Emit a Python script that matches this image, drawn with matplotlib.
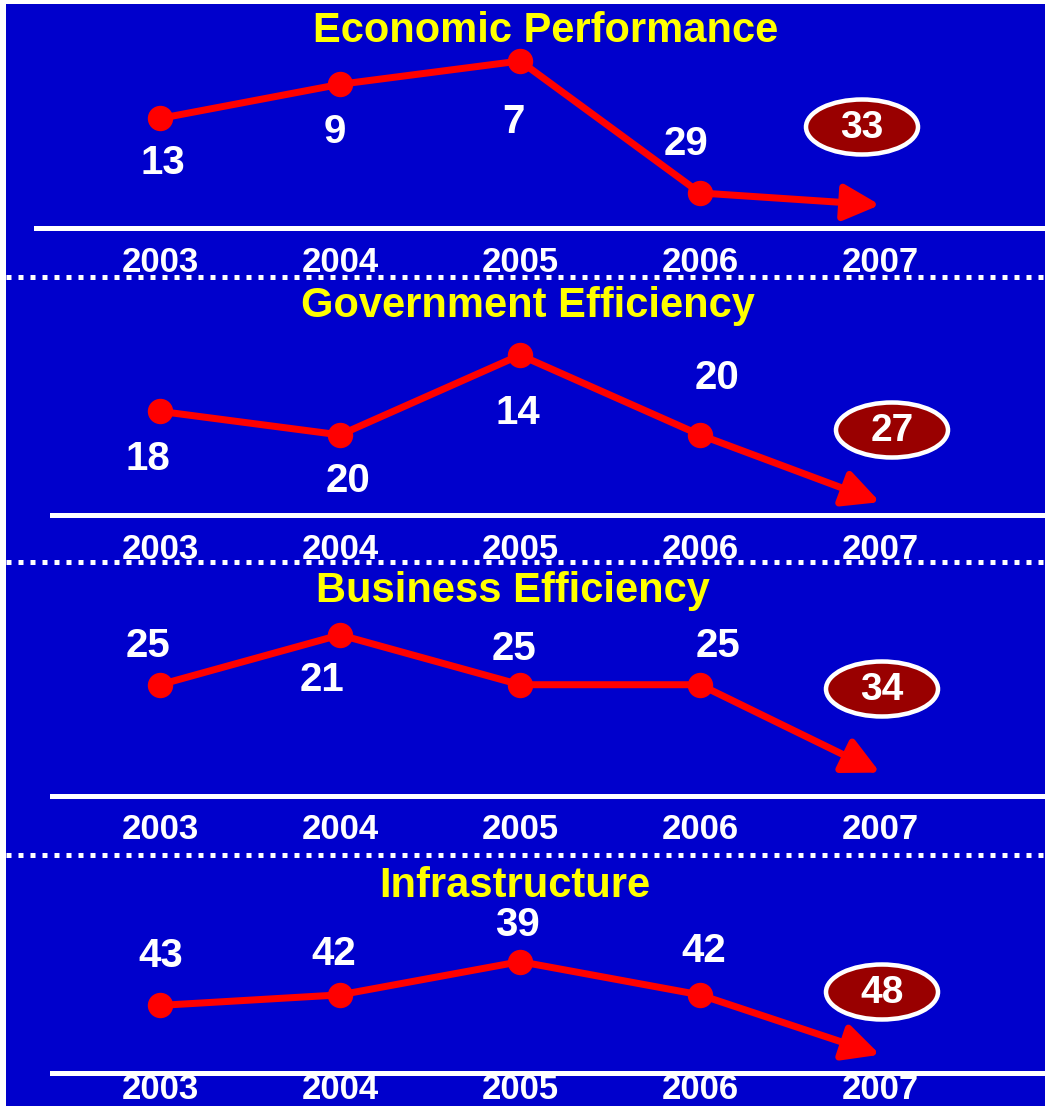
import matplotlib.pyplot as plt
from matplotlib.patches import Ellipse, Rectangle
from matplotlib.lines import Line2D

# IMD competitiveness rankings by factor
years = ['2003', '2004', '2005', '2006', '2007']
titles = ['Economic Performance', 'Government Efficiency',
          'Business Efficiency', 'Infrastructure']
economic = [13, 9, 7, 29, 33]
government = [18, 20, 14, 20, 27]
business = [25, 21, 25, 25, 34]
infrastructure = [43, 42, 39, 42, 48]
ranks = [economic, government, business, infrastructure]

W, H = 1045, 1106
BLUE = '#0000CC'
RED = '#FF0000'
FONT = 'Liberation Sans'

# layout (pixels) for each panel: axes left, top, bottom
panel_box = [(36, 50, 228), (52, 325, 515), (52, 610, 796), (52, 905, 1073)]
ylims = [(42.3, 6.22), (28.6, 12.24), (36.9, 19.25), (50.0, 34.37)]
title_pos = [(546, 31), (528, 306), (513, 591), (515, 886)]
oval_pos = [(862, 127), (892, 430), (882, 689), (882, 992)]
year_pad = [13, 13, 12, 0]
sep_y = [277, 562, 855]
# label offsets in pixels (dx right, dy down)
lab_dx = [[3, -5, -7, -14], [-12, 8, -2, 17], [-12, -18, -6, 18], [1, -6, -3, 4]]
lab_dy = [[45, 48, 61, -49], [48, 46, 58, -57], [-39, 45, -36, -39], [-49, -41, -37, -44]]

px2pt = 72 / 100.0

fig = plt.figure(figsize=(W / 100, H / 100), dpi=100)
fig.patch.set_facecolor('white')
fig.patches.append(Rectangle((6 / W, 0), 1, 1 - 4 / H, transform=fig.transFigure,
                             facecolor=BLUE, edgecolor='none', zorder=-2))

for y in sep_y:
    fig.lines.append(Line2D([6 / W, 1], [1 - y / H, 1 - y / H], transform=fig.transFigure,
                            color='white', lw=5 * px2pt, linestyle=(0, (1, 1.4)),
                            dash_capstyle='butt', zorder=-1))

for k in range(4):
    left, top, bottom = panel_box[k]
    ax = fig.add_axes([left / W, 1 - bottom / H, (W - left) / W, (bottom - top) / H])
    ax.set_zorder(1)
    ax.set_facecolor('none')
    ax.set_yscale('log')
    ax.set_xlim((left - 160) / 180, (W - 160) / 180)
    ax.set_ylim(*ylims[k])
    ax.minorticks_off()
    for s in ['top', 'left', 'right']:
        ax.spines[s].set_visible(False)
    ax.spines['bottom'].set_color('white')
    ax.spines['bottom'].set_linewidth(5 * px2pt)
    ax.set_yticks([])
    ax.set_xticks(range(len(years)), years)
    ax.tick_params(axis='x', length=0, pad=year_pad[k], labelcolor='white', labelsize=25)
    for t in ax.get_xticklabels():
        t.set_fontfamily(FONT)
        t.set_fontweight('bold')

    r = ranks[k]
    x = list(range(len(years)))
    ax.plot(x[:4], r[:4], color=RED, lw=7 * px2pt, marker='o', markersize=24 * px2pt,
            clip_on=False, zorder=3)
    ax.annotate('', xy=(x[4], r[4]), xytext=(x[3], r[3]),
                arrowprops=dict(arrowstyle='-|>,head_length=1.1,head_width=0.55',
                                color=RED, lw=7 * px2pt, mutation_scale=20,
                                shrinkA=0, shrinkB=0), annotation_clip=False, zorder=3)
    for i in range(4):
        ax.annotate(str(r[i]), (x[i], r[i]),
                    xytext=(lab_dx[k][i] * px2pt, -lab_dy[k][i] * px2pt),
                    textcoords='offset points', ha='center', va='center',
                    color='white', fontsize=29, fontweight='bold', family=FONT,
                    annotation_clip=False)

    tx, ty = title_pos[k]
    fig.text(tx / W, 1 - ty / H, titles[k], ha='center', va='center', color='#FFFF00',
             fontsize=30, fontweight='bold', family=FONT, zorder=4)

    ox, oy = oval_pos[k]
    fig.patches.append(Ellipse((ox / W, 1 - oy / H), 112 / W, 55 / H,
                               transform=fig.transFigure, facecolor='#990000',
                               edgecolor='white', lw=4.5 * px2pt, zorder=5))
    fig.text(ox / W, 1 - (oy + 1) / H, str(r[4]), ha='center', va='center',
             color='white', fontsize=28, fontweight='bold', family=FONT, zorder=6)

fig.savefig('out.png', dpi=100, facecolor=fig.get_facecolor())
